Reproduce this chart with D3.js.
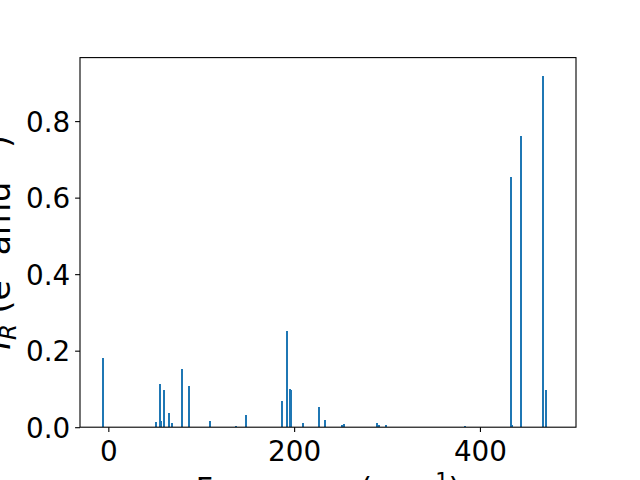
<!DOCTYPE html>
<html>
<head>
<meta charset="utf-8">
<script src="https://cdn.jsdelivr.net/npm/d3@7"></script>
<style>
  html, body { margin: 0; padding: 0; background: #fff; }
  svg { display: block; font-family: "DejaVu Sans", sans-serif; }
</style>
</head>
<body>
<svg id="chart" width="640" height="480"></svg>
<script>
// Frequencies (cm^-1) of the modes
const frequencies = [-5.4, 51, 55.2, 56.7, 59.5, 64.9, 68.1, 78.9, 86.8, 109, 137, 148.4,
  186.4, 191.8, 195, 196.5, 209, 226.2, 233.4, 251.3, 253.4, 288.6, 291.8, 299.3,
  383.5, 433, 434.8, 443.8, 467.4, 470.6];
// IR intensities
const intensities = [0.181, 0.014, 0.113, 0.016, 0.0975, 0.037, 0.011, 0.152, 0.108, 0.016, 0.003, 0.032,
  0.068, 0.251, 0.099, 0.097, 0.0105, 0.052, 0.018, 0.005, 0.008, 0.01, 0.005, 0.005,
  0.003, 0.655, 0.005, 0.76, 0.919, 0.0985];
const xTicks = [0, 200, 400];
const yTicks = [0.0, 0.2, 0.4, 0.6, 0.8];
const barWidth = 2;

const svg = d3.select("#chart");
const L = 80, R = 576, T = 57.6, B = 427.2;

const x = d3.scaleLinear().domain([-30.5, 503.4]).range([L, R]);
const y = d3.scaleLinear().domain([0, 0.92 * 1.05]).range([B, T]);

const data = frequencies.map((f, i) => ({ f, v: intensities[i] }));

svg.append("g").selectAll("rect").data(data).enter().append("rect")
  .attr("x", d => Math.round(x(d.f - barWidth / 2)))
  .attr("width", d => Math.max(2, Math.round(x(d.f + barWidth / 2) - x(d.f - barWidth / 2))))
  .attr("y", d => Math.round(y(d.v)))
  .attr("height", d => Math.round(y(0)) - Math.round(y(d.v)))
  .attr("fill", "#1f77b4")
  .attr("shape-rendering", "crispEdges");

const fs = 27.8;
const xAxis = d3.axisBottom(x).tickValues(xTicks).tickFormat(d3.format("d")).tickSizeOuter(0).tickSize(4.9).tickPadding(4.9);
const yAxis = d3.axisLeft(y).tickValues(yTicks).tickFormat(d3.format(".1f")).tickSizeOuter(0).tickSize(4.9).tickPadding(4.9);

const gx = svg.append("g").attr("transform", `translate(0,${B})`).call(xAxis);
const gy = svg.append("g").attr("transform", `translate(${L},0)`).call(yAxis);
[gx, gy].forEach(g => {
  g.select(".domain").remove();
  g.selectAll(".tick line").attr("stroke", "#000").attr("stroke-width", 1.1);
  g.selectAll(".tick text").attr("fill", "#000").style("font-size", fs + "px").style("font-family", "DejaVu Sans");
});
gx.selectAll(".tick text").attr("dy", null).attr("y", 33.5);
gy.selectAll(".tick text").attr("dy", "0.36em");

// frame
svg.append("rect").attr("x", L).attr("y", T).attr("width", R - L).attr("height", B - T)
  .attr("fill", "none").attr("stroke", "#000").attr("stroke-width", 1.1);

// labels
const xl = svg.append("text").attr("x", (L + R) / 2).attr("y", 499).attr("text-anchor", "middle")
  .style("font-size", "30px").attr("fill", "#000");
xl.append("tspan").text("Frequency (cm");
xl.append("tspan").attr("dy", -11).style("font-size", "21px").text("\u22121");
xl.append("tspan").attr("dy", 11).text(")");

const yl = svg.append("text").attr("transform", `translate(10,${(T + B) / 2}) rotate(-90)`)
  .attr("text-anchor", "middle").style("font-size", "33px").attr("fill", "#000");
yl.append("tspan").style("font-style", "italic").text("I");
yl.append("tspan").attr("dy", 6).style("font-size", "23px").style("font-style", "italic").text("R");
yl.append("tspan").attr("dy", -6).text(" (e");
yl.append("tspan").attr("dy", -13).style("font-size", "23px").text("2");
yl.append("tspan").attr("dy", 13).text(" amu");
yl.append("tspan").attr("dy", -13).style("font-size", "23px").text("\u22121");
yl.append("tspan").attr("dy", 13).text(")");
</script>
</body>
</html>
